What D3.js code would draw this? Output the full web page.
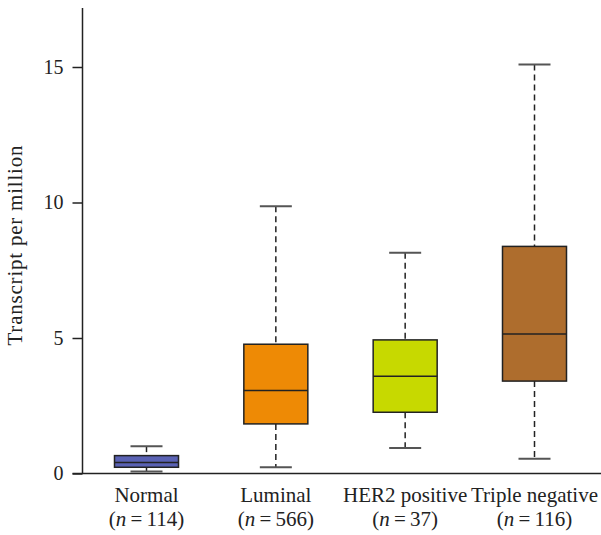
<!DOCTYPE html>
<html>
<head>
<meta charset="utf-8">
<script src="https://cdn.jsdelivr.net/npm/d3@7"></script>
<style>
  html, body { margin: 0; padding: 0; background: #fff; }
  svg { display: block; }
</style>
</head>
<body>
<svg id="chart" width="601" height="535"></svg>
<script>
// Data
const categories = ["Normal", "Luminal", "HER2 positive", "Triple negative"];
const sampleSizes = [114, 566, 37, 116];
const whiskerLow = [0.07, 0.23, 0.94, 0.54];
const q1 = [0.23, 1.83, 2.26, 3.41];
const median = [0.41, 3.06, 3.59, 5.15];
const q3 = [0.66, 4.77, 4.93, 8.38];
const whiskerHigh = [1.01, 9.86, 8.15, 15.09];
const colors = ["#5a62b4", "#ee8a05", "#c7d900", "#ae6d2d"];
const yTicks = [0, 5, 10, 15];
const yTitle = "Transcript per million";

const FONT = "'Liberation Serif', 'Times New Roman', Tinos, serif";
const svg = d3.select("#chart").style("font-family", FONT);
const axisX = 82.5, axisBottom = 473.5, axisTop = 8;

const y = d3.scaleLinear().domain([0, 15]).range([axisBottom, 67]);
const x = d3.scalePoint().domain(categories).range([146.5, 534.5]);
const boxW = 64, capW = 32;

const yAxis = d3.axisLeft(y).tickValues(yTicks).tickSize(10).tickPadding(9).tickFormat(d3.format("d"));
const gy = svg.append("g").attr("transform", `translate(${axisX},0)`).call(yAxis);
gy.attr("font-size", 20).attr("font-family", null);
gy.select(".domain").remove();
gy.selectAll(".tick line").attr("stroke", "#222").attr("stroke-width", 1.5);
gy.selectAll(".tick text").attr("fill", "#222").style("font-family", FONT);
svg.append("line").attr("x1", axisX).attr("x2", axisX).attr("y1", axisTop).attr("y2", axisBottom)
  .attr("stroke", "#222").attr("stroke-width", 1.5);

svg.append("line").attr("x1", axisX - 10).attr("x2", 601).attr("y1", axisBottom).attr("y2", axisBottom)
  .attr("stroke", "#222").attr("stroke-width", 1.5);

svg.append("text")
  .attr("transform", `translate(21.5,${245.5}) rotate(-90)`)
  .attr("text-anchor", "middle")
  .style("font-family", FONT).attr("font-size", 21).attr("fill", "#222")
  .attr("textLength", 200).attr("lengthAdjust", "spacing")
  .text(yTitle);

const data = categories.map((c, i) => ({
  c, n: sampleSizes[i], lo: whiskerLow[i], q1: q1[i], med: median[i], q3: q3[i], hi: whiskerHigh[i], col: colors[i]
}));

const g = svg.append("g");
data.forEach(d => {
  const cx = x(d.c);
  g.append("line").attr("x1", cx).attr("x2", cx).attr("y1", y(d.hi)).attr("y2", y(d.q3))
    .attr("stroke", "#222").attr("stroke-width", 1.5).attr("stroke-dasharray", "6,4");
  g.append("line").attr("x1", cx).attr("x2", cx).attr("y1", y(d.q1)).attr("y2", y(d.lo))
    .attr("stroke", "#222").attr("stroke-width", 1.5).attr("stroke-dasharray", "6,4");
  [d.hi, d.lo].forEach(v => {
    g.append("line").attr("x1", cx - capW / 2).attr("x2", cx + capW / 2).attr("y1", y(v)).attr("y2", y(v))
      .attr("stroke", "#555").attr("stroke-width", 2);
  });
  g.append("rect").attr("x", cx - boxW / 2).attr("width", boxW)
    .attr("y", y(d.q3)).attr("height", y(d.q1) - y(d.q3))
    .attr("fill", d.col).attr("stroke", "#222").attr("stroke-width", 1.5);
  g.append("line").attr("x1", cx - boxW / 2).attr("x2", cx + boxW / 2).attr("y1", y(d.med)).attr("y2", y(d.med))
    .attr("stroke", "#222").attr("stroke-width", 1.5);
  const t = svg.append("text").attr("text-anchor", "middle").attr("font-size", 21).attr("fill", "#222").style("font-family", FONT);
  t.append("tspan").attr("x", cx).attr("y", 501.5).text(d.c);
  const t2 = svg.append("text").attr("text-anchor", "middle").attr("font-size", 21).attr("fill", "#222").style("font-family", FONT);
  t2.append("tspan").attr("x", cx).attr("y", 525.5).text("(");
  t2.append("tspan").attr("font-style", "italic").text("n");
  t2.append("tspan").text("\u2009=\u2009" + d.n + ")");
});
</script>
</body>
</html>
